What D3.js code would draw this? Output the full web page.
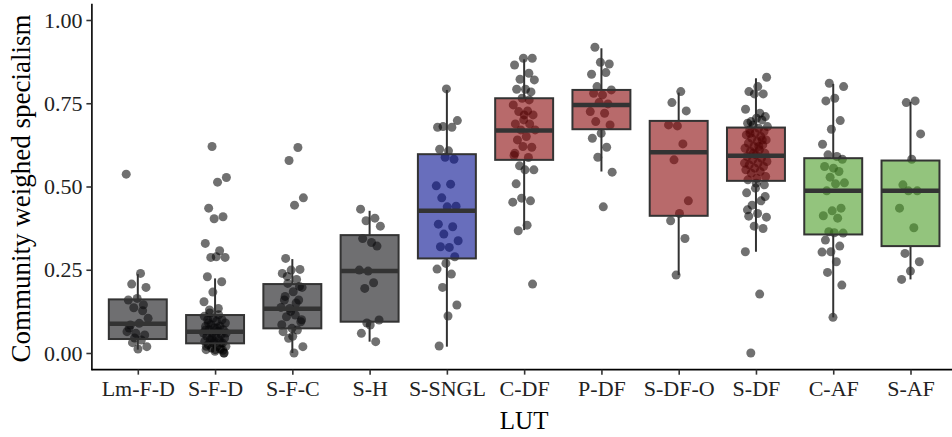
<!DOCTYPE html>
<html lang='en'>
<head>
  <meta charset='UTF-8'>
  <title>Community weighed specialism by LUT</title>
  <style>
    body { margin: 0; background: #fff; }
    svg { display: block; font-family: 'Liberation Serif', 'DejaVu Serif', serif; }
  </style>
</head>
<body>
<div id='chart'></div>
<script src='https://cdn.jsdelivr.net/npm/d3@7/dist/d3.min.js'></script>
<script>
  // land use types on the x axis
  var categories = ['Lm-F-D', 'S-F-D', 'S-F-C', 'S-H', 'S-SNGL', 'C-DF', 'P-DF', 'S-DF-O', 'S-DF', 'C-AF', 'S-AF']
  // group each LUT belongs to (drives the box fill)
  var lutGroup = ['none', 'none', 'none', 'none', 'sngl', 'df', 'df', 'df', 'df', 'af', 'af']
  var yTicks = [0, 0.25, 0.5, 0.75, 1]

  // box statistics
  var whiskerLow = [0.01, 0.0, 0.0, 0.034, 0.019, 0.369, 0.545, 0.234, 0.304, 0.107, 0.221]
  var q1 = [0.042, 0.029, 0.074, 0.094, 0.284, 0.580, 0.672, 0.412, 0.517, 0.356, 0.321]
  var median = [0.088, 0.064, 0.133, 0.246, 0.427, 0.668, 0.745, 0.603, 0.592, 0.487, 0.487]
  var q3 = [0.161, 0.114, 0.207, 0.354, 0.597, 0.765, 0.790, 0.697, 0.677, 0.585, 0.578]
  var whiskerHigh = [0.237, 0.224, 0.282, 0.427, 0.790, 0.882, 0.915, 0.782, 0.825, 0.808, 0.754]

  // individual site values (jittered points)
  var ptsLmFD = [0.537, 0.239, 0.207, 0.197, 0.164, 0.159, 0.127, 0.136, 0.104, 0.089, 0.084, 0.054, 0.059,
    0.064, 0.039, 0.031, 0.019, 0.012, 0.075, 0.145, 0.045]
  var ptsSFD = [0.62, 0.527, 0.513, 0.435, 0.409, 0.403, 0.329, 0.307, 0.287, 0.287, 0.289, 0.229, 0.214,
    0.183, 0.154, 0.134, 0.129, 0.0, 0.005, 0.01, 0.012, 0.015, 0.02, 0.02, 0.025, 0.03, 0.03, 0.035, 0.04,
    0.04, 0.045, 0.05, 0.05, 0.055, 0.06, 0.06, 0.065, 0.07, 0.07, 0.075, 0.08, 0.08, 0.085, 0.09, 0.095,
    0.1, 0.1, 0.105, 0.11, 0.115, 0.12, 0.0, 0.01, 0.02, 0.03, 0.045, 0.06, 0.075, 0.09, 0.008, 0.035, 0.068]
  var ptsSFC = [0.617, 0.578, 0.466, 0.444, 0.284, 0.251, 0.249, 0.239, 0.221, 0.209, 0.197, 0.184, 0.159,
    0.159, 0.134, 0.137, 0.114, 0.109, 0.094, 0.074, 0.064, 0.069, 0.044, 0.019, 0.0, 0.17, 0.2, 0.125,
    0.085, 0.15, 0.23, 0.1, 0.05]
  var ptsSH = [0.432, 0.405, 0.397, 0.381, 0.332, 0.344, 0.321, 0.246, 0.249, 0.211, 0.194, 0.099, 0.084,
    0.059, 0.034, 0.09]
  var ptsSSNGL = [0.793, 0.678, 0.678, 0.68, 0.698, 0.607, 0.612, 0.582, 0.588, 0.502, 0.507, 0.466, 0.441,
    0.439, 0.387, 0.379, 0.357, 0.337, 0.317, 0.319, 0.289, 0.269, 0.252, 0.237, 0.197, 0.144, 0.111, 0.021]
  var ptsCDF = [0.885, 0.885, 0.865, 0.84, 0.822, 0.82, 0.792, 0.792, 0.784, 0.765, 0.745, 0.727, 0.725,
    0.715, 0.715, 0.688, 0.688, 0.67, 0.67, 0.65, 0.64, 0.618, 0.62, 0.593, 0.587, 0.562, 0.55, 0.55, 0.508,
    0.457, 0.465, 0.453, 0.384, 0.367, 0.207, 0.7, 0.6, 0.76]
  var ptsPDF = [0.918, 0.868, 0.873, 0.837, 0.842, 0.8, 0.79, 0.775, 0.78, 0.748, 0.752, 0.725, 0.72,
    0.695, 0.685, 0.66, 0.645, 0.618, 0.588, 0.543, 0.439]
  var ptsSDFO = [0.785, 0.752, 0.727, 0.682, 0.685, 0.628, 0.58, 0.457, 0.419, 0.397, 0.344, 0.234]
  var ptsSDF = [0.828, 0.8, 0.785, 0.778, 0.778, 0.732, 0.72, 0.695, 0.71, 0.705, 0.69, 0.7, 0.685,
    0.68, 0.675, 0.67, 0.665, 0.66, 0.655, 0.65, 0.645, 0.64, 0.635, 0.63, 0.625, 0.62, 0.615, 0.61, 0.605,
    0.6, 0.595, 0.59, 0.585, 0.58, 0.575, 0.57, 0.565, 0.56, 0.555, 0.55, 0.545, 0.54, 0.53, 0.525, 0.52,
    0.64, 0.6, 0.57, 0.62, 0.66, 0.505, 0.495, 0.481, 0.457, 0.444, 0.408, 0.419, 0.411, 0.374, 0.381,
    0.304, 0.177, 0.0, 0.47, 0.51, 0.43]
  var ptsCAF = [0.81, 0.8, 0.765, 0.757, 0.698, 0.672, 0.627, 0.59, 0.595, 0.582, 0.555, 0.56, 0.545,
    0.528, 0.511, 0.508, 0.487, 0.435, 0.427, 0.412, 0.405, 0.364, 0.36, 0.361, 0.339, 0.321, 0.304, 0.303,
    0.274, 0.242, 0.204, 0.107]
  var ptsSAF = [0.757, 0.752, 0.658, 0.582, 0.505, 0.487, 0.487, 0.435, 0.376, 0.299, 0.274, 0.246, 0.221]

  var points = [ptsLmFD, ptsSFD, ptsSFC, ptsSH, ptsSSNGL, ptsCDF, ptsPDF, ptsSDFO, ptsSDF, ptsCAF, ptsSAF]

  // box fills are semi transparent so the points underneath take the box colour
  var fills = { none: '#0f0f12', sngl: '#030d8f', df: '#890709', af: '#4b9d26' }

  var width = 952, height = 437
  var svg = d3.select('#chart').append('svg')
    .attr('width', width)
    .attr('height', height)

  var x = d3.scalePoint().domain(categories).range([137.8, 910.5])
  var step = x.step()
  var y = d3.scaleLinear().domain([-0.05, 1.05]).range([369.65, 3.35])
  var panelLeft = 91.4
  var boxW = step * 0.75
  var jitterW = step * 0.15

  // jittered points first, boxes are drawn over them
  var pts = []
  points.forEach(function (list, k) {
    list.forEach(function (v, i) {
      var f = ((i * 0.6180339887 + k * 0.37) % 1) * 2 - 1
      pts.push({ cat: categories[k], v: v, dx: f * jitterW })
    })
  })
  svg.append('g').selectAll('circle').data(pts).enter().append('circle')
    .attr('cx', function (d) { return x(d.cat) + d.dx })
    .attr('cy', function (d) { return y(d.v) })
    .attr('r', 4.5)
    .attr('fill', '#000')
    .attr('fill-opacity', 0.56)

  var boxes = categories.map(function (c, i) {
    return { cat: c, grp: lutGroup[i], lo: whiskerLow[i], q1: q1[i], med: median[i], q3: q3[i], hi: whiskerHigh[i] }
  })
  var bg = svg.append('g').selectAll('g').data(boxes).enter().append('g')
  // whiskers
  bg.append('line')
    .attr('x1', function (d) { return x(d.cat) }).attr('x2', function (d) { return x(d.cat) })
    .attr('y1', function (d) { return y(d.q3) }).attr('y2', function (d) { return y(d.hi) })
    .attr('stroke', '#333').attr('stroke-width', 2)
  bg.append('line')
    .attr('x1', function (d) { return x(d.cat) }).attr('x2', function (d) { return x(d.cat) })
    .attr('y1', function (d) { return y(d.q1) }).attr('y2', function (d) { return y(d.lo) })
    .attr('stroke', '#333').attr('stroke-width', 2)
  bg.append('rect')
    .attr('x', function (d) { return x(d.cat) - boxW / 2 })
    .attr('width', boxW)
    .attr('y', function (d) { return y(d.q3) })
    .attr('height', function (d) { return y(d.q1) - y(d.q3) })
    .attr('fill', function (d) { return fills[d.grp] })
    .attr('fill-opacity', 0.6)
    .attr('stroke', '#333')
    .attr('stroke-width', 2)
  bg.append('line')
    .attr('x1', function (d) { return x(d.cat) - boxW / 2 }).attr('x2', function (d) { return x(d.cat) + boxW / 2 })
    .attr('y1', function (d) { return y(d.med) }).attr('y2', function (d) { return y(d.med) })
    .attr('stroke', '#333').attr('stroke-width', 4.5)

  // axes
  var yAxis = svg.append('g')
    .attr('transform', 'translate(' + panelLeft + ',0)')
    .call(d3.axisLeft(y).tickValues(yTicks).tickFormat(d3.format('.2f')).tickSize(5).tickPadding(4).tickSizeOuter(0))
  var xAxis = svg.append('g')
    .attr('transform', 'translate(0,' + y(-0.05) + ')')
    .call(d3.axisBottom(x).tickSize(5).tickPadding(6).tickSizeOuter(0))
  xAxis.select('.domain').attr('d', 'M' + panelLeft + ',0H' + width)
  ;[xAxis, yAxis].forEach(function (a) {
    a.selectAll('.domain').attr('stroke', '#000').attr('stroke-width', 1.6)
    a.selectAll('.tick line').attr('stroke', '#333').attr('stroke-width', 1.6)
    a.selectAll('.tick text').attr('fill', '#222').style('font-size', '22px')
      .style('font-family', "'Liberation Serif', serif")
  })

  svg.append('text')
    .attr('x', (panelLeft + 956.9) / 2)
    .attr('y', 429)
    .attr('text-anchor', 'middle')
    .style('font-size', '25px')
    .text('LUT')
  svg.append('text')
    .attr('transform', 'translate(30,' + ((y(-0.05) + y(1.05)) / 2 + 2) + ') rotate(-90)')
    .attr('text-anchor', 'middle')
    .style('font-size', '27px')
    .text('Community weighed specialism')
</script>
</body>
</html>
